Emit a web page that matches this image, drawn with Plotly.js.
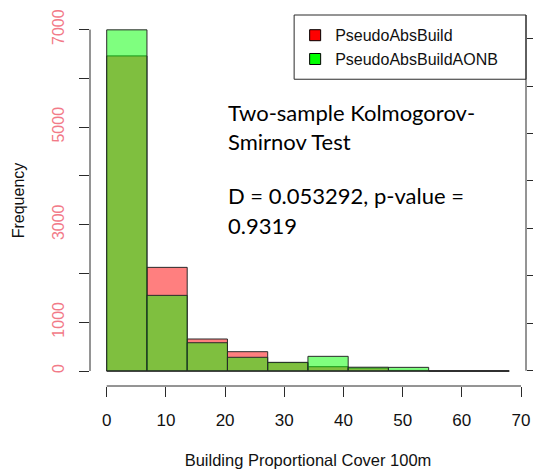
<!DOCTYPE html>
<html>
<head>
<meta charset="utf-8">
<script src="https://cdn.plot.ly/plotly-3.0.1.min.js"></script>
<style>html,body{margin:0;padding:0;background:#fff;}#chart{width:533px;height:474px;}</style>
</head>
<body>
<div id="chart"></div>
<script>
// Histogram bins (Building Proportional Cover 100m)
var binEdges = [0, 6.8, 13.6, 20.4, 27.2, 34, 40.8, 47.6, 54.4, 61.2, 68];
// Frequencies per bin
var countsPseudoAbsBuild     = [6460, 2125, 656, 396, 172, 88, 62, 12, 0, 0];
var countsPseudoAbsBuildAONB = [6995, 1551, 580, 281, 178, 301, 78, 75, 0, 0];
var seriesNames = ['PseudoAbsBuild', 'PseudoAbsBuildAONB'];
// Axis ticks
var xTickVals = [0, 10, 20, 30, 40, 50, 60, 70];
var yTickVals = [0, 1000, 2000, 3000, 4000, 5000, 6000, 7000];
var yTickText = ['0', '1000', '', '3000', '', '5000', '', '7000'];
var y2TickVals = [0, 1, 2, 3, 4, 5, 6, 7];
var ksTitleLines = ['Two-sample Kolmogorov-', 'Smirnov Test'];
var ksResultLines = ['D = 0.053292, p-value =', '0.9319'];

var centers = [], widths = [];
for (var i = 0; i < binEdges.length - 1; i++) {
  centers.push((binEdges[i] + binEdges[i + 1]) / 2);
  widths.push(binEdges[i + 1] - binEdges[i]);
}

var edgeColor = '#2a2a2a';
var traces = [
  {type: 'bar', x: centers, y: countsPseudoAbsBuild, width: widths, name: seriesNames[0], showlegend: false,
   marker: {color: 'rgba(255,0,0,0.5)', line: {color: edgeColor, width: 1}}, hoverinfo: 'skip'},
  {type: 'bar', x: centers, y: countsPseudoAbsBuildAONB, width: widths, name: seriesNames[1], showlegend: false,
   marker: {color: 'rgba(0,255,0,0.5)', line: {color: edgeColor, width: 1}}, hoverinfo: 'skip'},
  // baseline of the histogram (zero-height bins are still outlined in R)
  {type: 'scatter', mode: 'lines', x: [binEdges[0], binEdges[binEdges.length - 1]], y: [0, 0],
   line: {color: edgeColor, width: 1}, showlegend: false, hoverinfo: 'skip'},
  // legend entries
  {type: 'scatter', mode: 'markers', x: [null], y: [null], name: seriesNames[0],
   marker: {symbol: 'square', size: 11, color: '#ff0000', line: {color: '#000', width: 1}}},
  {type: 'scatter', mode: 'markers', x: [null], y: [null], name: seriesNames[1],
   marker: {symbol: 'square', size: 11, color: '#00ff00', line: {color: '#000', width: 1}}},
  // secondary (right) axis
  {type: 'scatter', mode: 'markers', x: [null], y: [null], yaxis: 'y2', showlegend: false, hoverinfo: 'skip'}
];

// plot area geometry (pixels)
var L = 90, R = 525.7, T = 14.7, B = 386;
var W = R - L, H = B - T;
function px(xp) { return (xp - L) / W; }
function py(yp) { return (B - yp) / H; }

var axisFont = {family: 'Liberation Sans, Arial, sans-serif', size: 17, color: '#111'};
var txtFont = {family: 'Lato, Open Sans, sans-serif', size: 22, color: '#000'};

var annotations = [];
var linesY = [112, 141, 195, 225];
var allLines = ksTitleLines.concat(ksResultLines);
for (var k = 0; k < allLines.length; k++) {
  annotations.push({xref: 'paper', yref: 'paper', x: px(226), y: py(linesY[k]), xanchor: 'left', yanchor: 'middle',
    text: allLines[k], showarrow: false, font: txtFont});
}

var layout = {
  width: 533, height: 474,
  margin: {l: L, r: 533 - R, t: T, b: 474 - B, pad: 0},
  paper_bgcolor: '#fff', plot_bgcolor: '#fff',
  barmode: 'overlay', showlegend: true,
  xaxis: {range: [-2.824, 70.845], tickmode: 'array', tickvals: xTickVals, ticks: 'outside', ticklen: 10,
          tickcolor: edgeColor, tickwidth: 1, showgrid: false, zeroline: false, showline: false,
          tickfont: axisFont, ticklabelstandoff: 9,
          title: {text: 'Building Proportional Cover 100m', font: {family: axisFont.family, size: 16.5, color: '#111'}, standoff: 25}},
  yaxis: {range: [-307.3, 7299], tickmode: 'array', tickvals: yTickVals, ticktext: yTickText, ticks: 'outside',
          ticklen: 10, tickcolor: edgeColor, tickwidth: 1, showgrid: false, zeroline: false, showline: false,
          tickangle: -90, tickfont: {family: 'Liberation Sans, Arial, sans-serif', size: 16, color: '#F27A88'},
          ticklabelstandoff: 9,
          title: {text: 'Frequency', font: {family: axisFont.family, size: 16, color: '#111'}, standoff: 20}},
  yaxis2: {overlaying: 'y', side: 'right', range: [-0.322, 7.497], tickmode: 'array', tickvals: y2TickVals,
           showticklabels: false, ticks: 'outside', ticklen: 8, tickcolor: edgeColor, tickwidth: 1,
           showgrid: false, zeroline: false, showline: false},
  legend: {x: px(295), xanchor: 'left', y: py(18), yanchor: 'top', bgcolor: 'rgba(0,0,0,0)', borderwidth: 0,
           font: {family: 'Liberation Sans, Arial, sans-serif', size: 16, color: '#111'}, itemwidth: 30},
  shapes: [
    {type: 'line', xref: 'x', yref: 'paper', x0: xTickVals[0], x1: xTickVals[xTickVals.length - 1], y0: 0, y1: 0,
     line: {color: edgeColor, width: 1}},
    {type: 'line', xref: 'paper', yref: 'y', x0: 0, x1: 0, y0: yTickVals[0], y1: yTickVals[yTickVals.length - 1],
     line: {color: edgeColor, width: 1}},
    {type: 'line', xref: 'paper', yref: 'y2', x0: 1, x1: 1, y0: y2TickVals[0], y1: 7.497,
     line: {color: edgeColor, width: 1}},
    {type: 'rect', xref: 'paper', yref: 'paper', x0: px(294), x1: 1, y0: py(79), y1: 1,
     line: {color: edgeColor, width: 1}, fillcolor: 'rgba(0,0,0,0)'}
  ],
  annotations: annotations
};

Plotly.newPlot('chart', traces, layout, {staticPlot: true, displayModeBar: false});
</script>
</body>
</html>
